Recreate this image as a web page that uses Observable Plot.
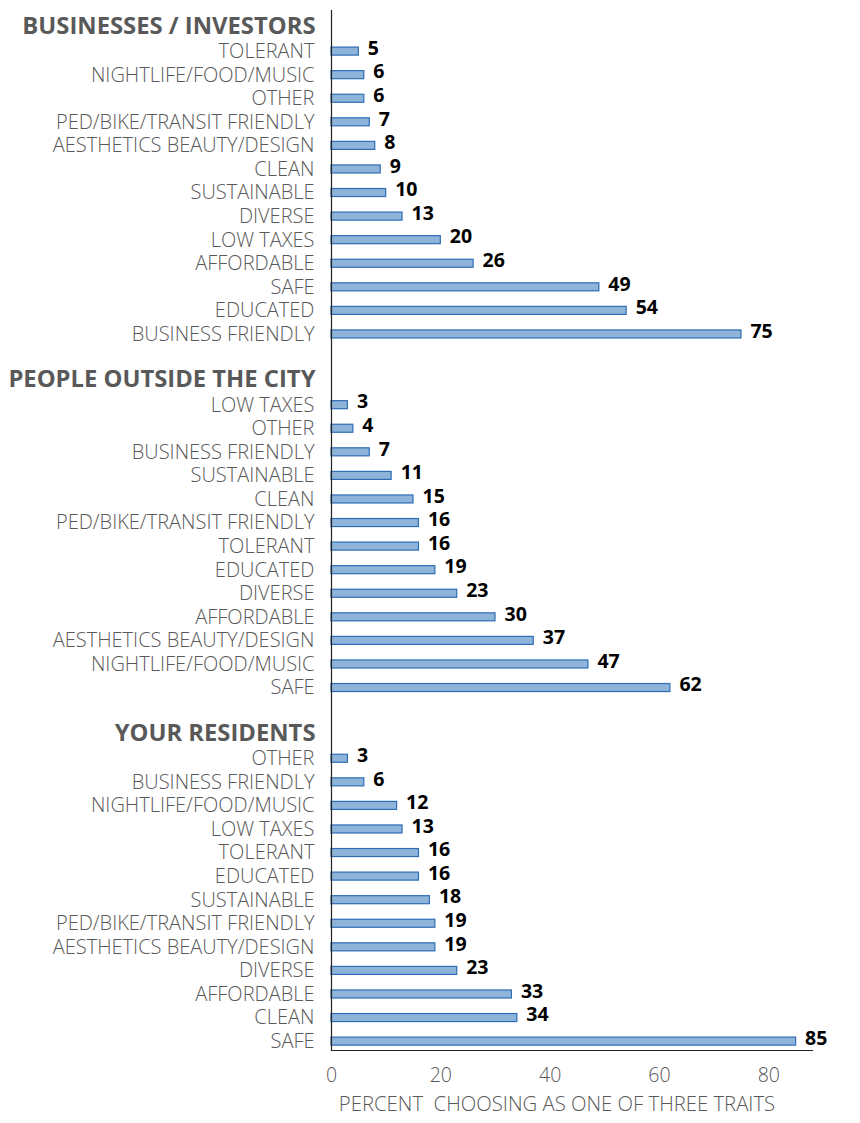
<!DOCTYPE html>
<html>
<head>
<meta charset="utf-8">
<script src="https://cdn.jsdelivr.net/npm/d3@7"></script>
<script src="https://cdn.jsdelivr.net/npm/@observablehq/plot@0.6"></script>
<style>
  body { margin: 0; background: #fff; }
  svg { display: block; }
</style>
</head>
<body>
<div id="chart"></div>
<script>
const groups = ["BUSINESSES / INVESTORS", "PEOPLE OUTSIDE THE CITY", "YOUR RESIDENTS"];

const businessTraits = ["TOLERANT", "NIGHTLIFE/FOOD/MUSIC", "OTHER", "PED/BIKE/TRANSIT FRIENDLY", "AESTHETICS BEAUTY/DESIGN", "CLEAN", "SUSTAINABLE", "DIVERSE", "LOW TAXES", "AFFORDABLE", "SAFE", "EDUCATED", "BUSINESS FRIENDLY"];
const businessValues = [5, 6, 6, 7, 8, 9, 10, 13, 20, 26, 49, 54, 75];

const outsideTraits = ["LOW TAXES", "OTHER", "BUSINESS FRIENDLY", "SUSTAINABLE", "CLEAN", "PED/BIKE/TRANSIT FRIENDLY", "TOLERANT", "EDUCATED", "DIVERSE", "AFFORDABLE", "AESTHETICS BEAUTY/DESIGN", "NIGHTLIFE/FOOD/MUSIC", "SAFE"];
const outsideValues = [3, 4, 7, 11, 15, 16, 16, 19, 23, 30, 37, 47, 62];

const residentTraits = ["OTHER", "BUSINESS FRIENDLY", "NIGHTLIFE/FOOD/MUSIC", "LOW TAXES", "TOLERANT", "EDUCATED", "SUSTAINABLE", "PED/BIKE/TRANSIT FRIENDLY", "AESTHETICS BEAUTY/DESIGN", "DIVERSE", "AFFORDABLE", "CLEAN", "SAFE"];
const residentValues = [3, 6, 12, 13, 16, 16, 18, 19, 19, 23, 33, 34, 85];

const xTicks = [0, 20, 40, 60, 80];
const xLabel = "PERCENT  CHOOSING AS ONE OF THREE TRAITS";

// Build rows: header row, trait rows, spacer row between groups
const traitLists = [[businessTraits, businessValues], [outsideTraits, outsideValues], [residentTraits, residentValues]];
const rows = [];
traitLists.forEach(([traits, values], gi) => {
  if (gi > 0) rows.push({id: `spacer${gi}`, kind: "spacer", label: ""});
  rows.push({id: `header${gi}`, kind: "header", label: groups[gi]});
  traits.forEach((t, i) => rows.push({id: `g${gi}-${i}`, kind: "bar", label: t, value: values[i]}));
});
const bars = rows.filter(d => d.kind === "bar");
const headers = rows.filter(d => d.kind === "header");

const chart = Plot.plot({
  width: 860,
  height: 1123,
  marginTop: 10,
  marginBottom: 73,
  marginLeft: 331,
  marginRight: 48,
  style: {fontFamily: "'Open Sans', sans-serif", background: "#fff"},
  x: {domain: [0, 88], ticks: xTicks, tickSize: 0, label: null},
  y: {domain: rows.map(d => d.id), paddingInner: 0.66, paddingOuter: 0.39, align: 0.735, round: false, axis: null},
  marks: [
    Plot.barX(bars, {x: "value", y: "id", fill: "#8fb4da", stroke: "#2e6db5", strokeWidth: 1.2}),
    Plot.text(bars, {x: "value", y: "id", text: d => String(d.value), textAnchor: "start", dx: 9, dy: -3, fontSize: 19.5, fontWeight: "bold", fill: "#000"}),
    Plot.text(bars, {x: 0, y: "id", text: "label", textAnchor: "end", dx: -17, fontSize: 20, fontWeight: 300, fill: "#595959"}),
    Plot.text(headers, {x: 0, y: "id", text: "label", textAnchor: "end", dx: -16, dy: -2, fontSize: 23.8, fontWeight: "bold", fill: "#595959"}),
    Plot.frame({anchor: "left", stroke: "#222", strokeWidth: 1.2}),
    Plot.frame({anchor: "bottom", stroke: "#222", strokeWidth: 1.2}),
    Plot.axisX({ticks: xTicks, tickSize: 0, tickPadding: 18, fontSize: 19.5, fontWeight: 300, fill: "#595959", label: null}),
    Plot.text([xLabel], {frameAnchor: "bottom", dx: -15, dy: 60, text: d => d, fontSize: 20.3, fontWeight: 300, fill: "#595959"})
  ]
});
document.getElementById("chart").appendChild(chart);
</script>
</body>
</html>
